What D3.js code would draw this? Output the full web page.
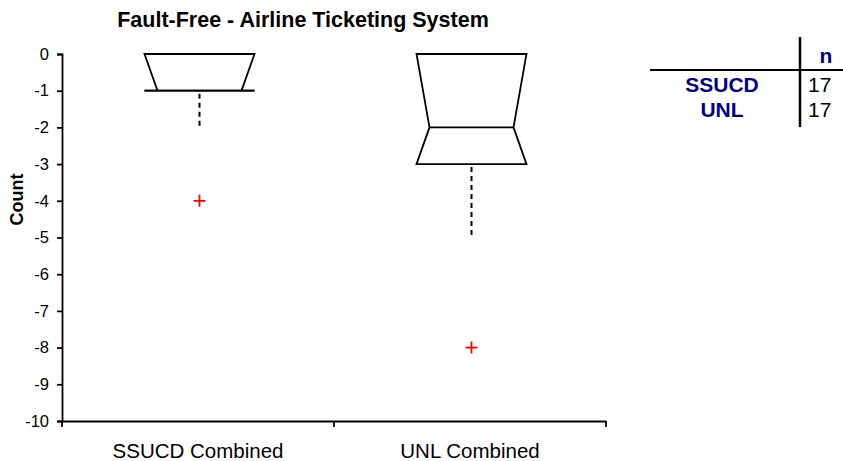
<!DOCTYPE html>
<html>
<head>
<meta charset="utf-8">
<script src="https://cdn.jsdelivr.net/npm/d3@7"></script>
<style>
  body { margin: 0; background: #fff; }
  svg { display: block; font-family: "Liberation Sans", Arial, sans-serif; }
</style>
</head>
<body>
<svg id="chart" width="843" height="461"></svg>
<script>
// Box plot summary per group (values are counts)
const categories = ["SSUCD Combined", "UNL Combined"];
const q3Values = [0, 0];
const medianValues = [-1, -2];
const q1Values = [-1, -3];
const whiskerLow = [-2, -5];
const outliers = [[-4], [-8]];
const yTicks = [0, -1, -2, -3, -4, -5, -6, -7, -8, -9, -10];
const tableGroups = ["SSUCD", "UNL"];
const tableN = [17, 17];

const svg = d3.select("#chart");
const plot = { left: 62, right: 606, top: 54, bottom: 421 };

const x = d3.scaleBand().domain(categories).range([plot.left, plot.right]);
const y = d3.scaleLinear().domain([0, -10]).range([plot.top, plot.bottom]);

const boxHalf = 55;   // half width of box at the quartiles
const notchHalf = 42; // half width at the median notch

// Title
svg.append("text")
  .attr("x", 303).attr("y", 27)
  .attr("text-anchor", "middle")
  .attr("font-size", 21.5).attr("font-weight", "bold")
  .text("Fault-Free - Airline Ticketing System");

// Y axis
const yAxis = svg.append("g")
  .attr("transform", `translate(${plot.left},0)`)
  .call(d3.axisLeft(y).tickValues(yTicks).tickSize(5).tickPadding(8).tickFormat(d => String(d)));
yAxis.select(".domain").attr("stroke", "#000").attr("stroke-width", 1.8);
yAxis.selectAll(".tick line").attr("stroke", "#000").attr("stroke-width", 1.8);
yAxis.selectAll(".tick text")
  .attr("font-size", 16.5).attr("fill", "#000")
  .attr("font-family", "Liberation Sans, Arial, sans-serif");

// X axis
const xAxis = svg.append("g")
  .attr("transform", `translate(0,${plot.bottom})`)
  .call(d3.axisBottom(x).tickSize(0).tickFormat(() => ""));
xAxis.select(".domain").attr("stroke", "#000").attr("stroke-width", 1.8);
// category separator ticks
const sepTicks = [plot.left, plot.left + x.bandwidth(), plot.right];
svg.append("g").selectAll("line").data(sepTicks).join("line")
  .attr("x1", d => d).attr("x2", d => d)
  .attr("y1", plot.bottom).attr("y2", plot.bottom + 6)
  .attr("stroke", "#000").attr("stroke-width", 1.8);
svg.append("g").selectAll("text").data(categories).join("text")
  .attr("x", d => x(d) + x.bandwidth() / 2)
  .attr("y", 458)
  .attr("text-anchor", "middle")
  .attr("font-size", 20.5)
  .text(d => d);

// Y axis label
svg.append("text")
  .attr("transform", `translate(23,${(plot.top + plot.bottom) / 2 - 38}) rotate(-90)`)
  .attr("text-anchor", "middle")
  .attr("font-size", 18).attr("font-weight", "bold")
  .text("Count");

// Notched boxes, whiskers and outliers
const boxes = svg.append("g");
categories.forEach((c, i) => {
  const cx = x(c) + x.bandwidth() / 2 + 1.5;
  const pts = [
    [cx - boxHalf, y(q3Values[i])],
    [cx + boxHalf, y(q3Values[i])],
    [cx + notchHalf, y(medianValues[i])],
    [cx + boxHalf, y(q1Values[i])],
    [cx - boxHalf, y(q1Values[i])],
    [cx - notchHalf, y(medianValues[i])]
  ];
  boxes.append("path")
    .attr("d", d3.line()(pts) + "Z")
    .attr("fill", "none").attr("stroke", "#000").attr("stroke-width", 1.8)
    .attr("stroke-linejoin", "miter");
  // median line
  const fullMedian = q1Values[i] === medianValues[i];
  boxes.append("line")
    .attr("x1", fullMedian ? cx - boxHalf : cx - notchHalf)
    .attr("x2", fullMedian ? cx + boxHalf : cx + notchHalf)
    .attr("y1", y(medianValues[i])).attr("y2", y(medianValues[i]))
    .attr("stroke", "#000").attr("stroke-width", 1.8);
  // lower whisker
  boxes.append("line")
    .attr("x1", cx).attr("x2", cx)
    .attr("y1", y(q1Values[i]) + 3).attr("y2", y(whiskerLow[i]))
    .attr("stroke", "#000").attr("stroke-width", 2)
    .attr("stroke-dasharray", "5,4");
  // outliers
  outliers[i].forEach(v => {
    const oy = y(v);
    boxes.append("path")
      .attr("d", `M${cx - 6},${oy}H${cx + 6}M${cx},${oy - 6}V${oy + 6}`)
      .attr("stroke", "#ff0000").attr("stroke-width", 1.8).attr("fill", "none");
  });
});

// Sample size table
const tbl = svg.append("g");
tbl.append("line").attr("x1", 800).attr("x2", 800).attr("y1", 37).attr("y2", 127)
  .attr("stroke", "#000").attr("stroke-width", 2.5);
tbl.append("line").attr("x1", 650).attr("x2", 843).attr("y1", 70).attr("y2", 70)
  .attr("stroke", "#000").attr("stroke-width", 2.2);
tbl.append("text").attr("x", 826).attr("y", 63).attr("text-anchor", "middle")
  .attr("font-size", 21).attr("font-weight", "bold").attr("fill", "#000080").text("n");
tableGroups.forEach((g, i) => {
  const ty = 92 + i * 25;
  tbl.append("text").attr("x", 722).attr("y", ty).attr("text-anchor", "middle")
    .attr("font-size", 21).attr("font-weight", "bold").attr("fill", "#000080").text(g);
  tbl.append("text").attr("x", 808).attr("y", ty)
    .attr("font-size", 21).attr("fill", "#000").text(tableN[i]);
});
</script>
</body>
</html>
